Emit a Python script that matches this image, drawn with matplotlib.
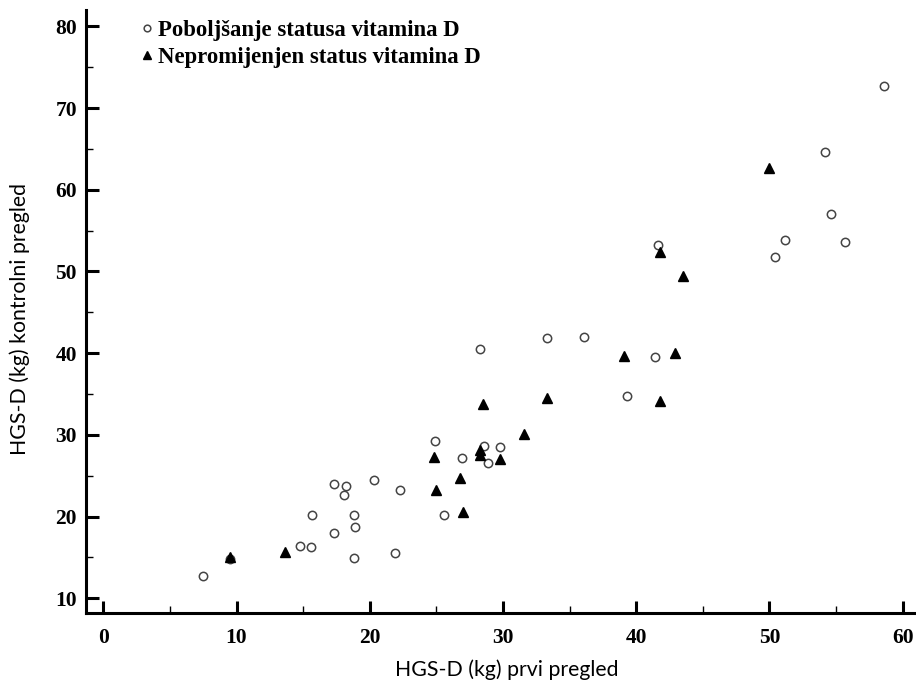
import numpy as np
import matplotlib
matplotlib.use("Agg")
import matplotlib.pyplot as plt
from matplotlib.ticker import MultipleLocator
from matplotlib.font_manager import FontProperties

# improved vitamin D status (open circles)
improved_x = [7.5, 9.5, 14.8, 15.6, 18.8, 21.9, 17.3, 18.8, 18.9, 15.7, 17.3, 18.2, 18.1,
              20.3, 22.3, 24.9, 26.9, 25.6, 28.6, 29.8, 28.9, 28.3, 33.3, 36.1, 41.4,
              39.3, 41.6, 50.4, 51.2, 55.7, 54.6, 54.2, 58.6]
improved_y = [12.7, 14.8, 16.4, 16.3, 14.9, 15.6, 18.0, 20.2, 18.7, 20.2, 24.0, 23.7, 22.6,
              24.5, 23.3, 29.2, 27.2, 20.2, 28.7, 28.5, 26.6, 40.5, 41.8, 42.0, 39.5,
              34.8, 53.2, 51.8, 53.9, 53.6, 57.0, 64.6, 72.7]

# unchanged vitamin D status (filled triangles)
unchanged_x = [9.5, 13.6, 24.8, 25.0, 26.8, 27.0, 28.5, 28.3, 28.3, 29.8, 31.6, 33.3,
               39.1, 41.8, 42.9, 41.8, 43.5, 50.0]
unchanged_y = [15.1, 15.7, 27.3, 23.3, 24.7, 20.6, 33.8, 28.1, 27.5, 27.1, 30.1, 34.5,
               39.7, 34.1, 40.0, 52.4, 49.5, 62.7]

label_improved = "Poboljšanje statusa vitamina D"
label_unchanged = "Nepromijenjen status vitamina D"

fig = plt.figure(figsize=(9.16, 6.82), dpi=100)
ax = fig.add_axes([86 / 916, 1 - 613 / 682, 830 / 916, 603 / 682])

ax.plot(improved_x, improved_y, linestyle="none", marker="o", markersize=6,
        markerfacecolor="white", markeredgecolor="#444444", markeredgewidth=1.1,
        label=label_improved)
ax.plot(unchanged_x, unchanged_y, linestyle="none", marker="^", markersize=7,
        color="black", label=label_unchanged)

ax.set_xlim(-1.3, 61.0)
ax.set_ylim(8.2, 82.0)

ax.xaxis.set_major_locator(MultipleLocator(10))
ax.xaxis.set_minor_locator(MultipleLocator(5))
ax.set_yticks(np.arange(10, 81, 10))
ax.yaxis.set_minor_locator(MultipleLocator(5))

for side in ["top", "right"]:
    ax.spines[side].set_visible(False)
for side in ["left", "bottom"]:
    ax.spines[side].set_linewidth(2.2)

ax.tick_params(which="major", direction="in", length=9, width=2.2)
ax.tick_params(which="minor", direction="in", length=5, width=1.0)
ax.tick_params(axis="x", which="major", pad=10.5)
ax.tick_params(axis="y", which="major", pad=6.5)

tick_font = FontProperties(family="Liberation Serif", weight="bold", size=15.5)
for lab in ax.get_xticklabels() + ax.get_yticklabels():
    lab.set_fontproperties(tick_font)

ax.set_xlabel("HGS-D (kg) prvi pregled", fontfamily="Lato", fontsize=15.3, va="center")
ax.set_ylabel("HGS-D (kg) kontrolni pregled", fontfamily="Lato", fontsize=15.3, va="center")
ax.xaxis.set_label_coords(0.507, -0.0945)
ax.yaxis.set_label_coords(-0.080, 0.4876)

ax.legend(loc="upper left", bbox_to_anchor=(0.0406, 1.018), frameon=False,
          prop={"family": "Liberation Serif", "weight": "bold", "size": 16.4},
          handletextpad=0.18, labelspacing=0.29, handlelength=0.6, markerscale=0.8)

fig.savefig("out.png", dpi=100)
